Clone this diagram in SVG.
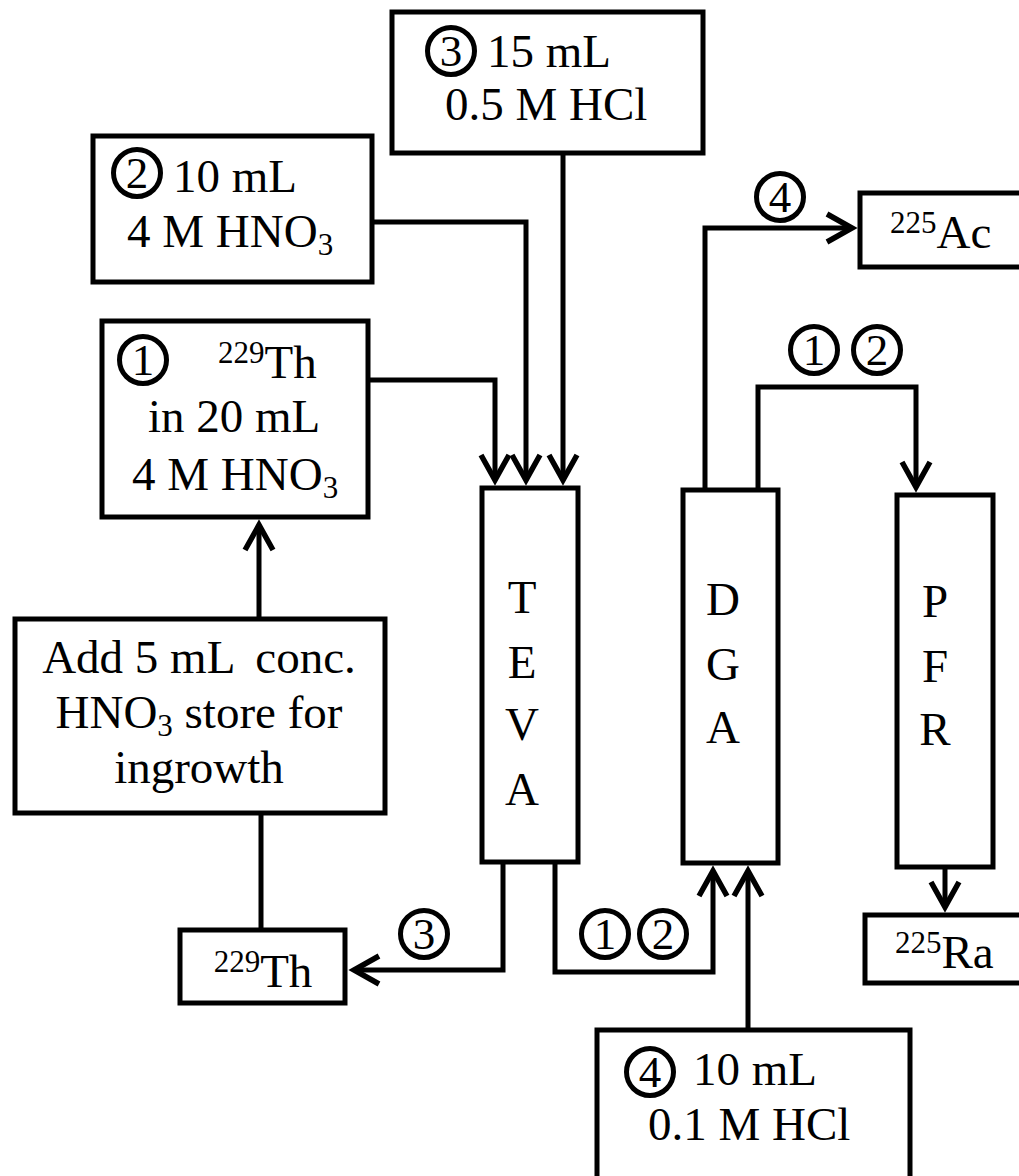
<svg xmlns="http://www.w3.org/2000/svg" width="1019" height="1176" viewBox="0 0 1019 1176">
<defs>
<style>
.b{fill:#fff;stroke:#000;stroke-width:5;stroke-linejoin:miter}
.l{fill:none;stroke:#000;stroke-width:5;stroke-linejoin:miter}
.c{fill:none;stroke:#000;stroke-width:5}
text{font-family:"Liberation Serif","Times New Roman",serif;font-size:47px;fill:#000}
.n{font-size:45px;text-anchor:middle}
.m{text-anchor:middle}
.s{font-size:31px}
</style>
<marker id="arr" viewBox="-32 -20 40 40" refX="0" refY="0" markerWidth="40" markerHeight="40" markerUnits="userSpaceOnUse" orient="auto" overflow="visible">
<path d="M-25,-14 L0,0 L-25,14" fill="none" stroke="#000" stroke-width="5.5" stroke-linejoin="miter"/>
</marker>
</defs>
<rect width="1019" height="1176" fill="#fff"/>

<g id="connectors">
<polyline class="l" points="372,222 526,222 526,480" marker-end="url(#arr)"/>
<polyline class="l" points="368,380 495,380 495,480" marker-end="url(#arr)"/>
<polyline class="l" points="563,153 563,480" marker-end="url(#arr)"/>
<polyline class="l" points="259,619 259,525" marker-end="url(#arr)"/>
<polyline class="l" points="261,813 261,930"/>
<polyline class="l" points="503,862 503,970 354,970" marker-end="url(#arr)"/>
<polyline class="l" points="555,862 555,972 713,972 713,871" marker-end="url(#arr)"/>
<polyline class="l" points="748,1030 748,871" marker-end="url(#arr)"/>
<polyline class="l" points="705,490 705,228 852,228" marker-end="url(#arr)"/>
<polyline class="l" points="758,490 758,387 916,387 916,487" marker-end="url(#arr)"/>
<polyline class="l" points="945,867 945,907" marker-end="url(#arr)"/>
<circle class="c" cx="424" cy="934" r="23.5"/><text class="n" x="424" y="949">3</text>
<circle class="c" cx="605" cy="934" r="23.5"/><text class="n" x="605" y="949">1</text>
<circle class="c" cx="663" cy="934" r="23.5"/><text class="n" x="663" y="949">2</text>
<circle class="c" cx="780" cy="197" r="23.5"/><text class="n" x="780" y="212">4</text>
<circle class="c" cx="814" cy="350" r="23.5"/><text class="n" x="814" y="365">1</text>
<circle class="c" cx="877" cy="350" r="23.5"/><text class="n" x="877" y="365">2</text>
</g>

<g id="box3">
<rect class="b" x="392" y="12" width="311" height="141"/>
<circle class="c" cx="451" cy="51" r="23.5"/><text class="n" x="451" y="66">3</text>
<text x="487" y="67">15 mL</text>
<text x="445" y="120">0.5 M HCl</text>
</g>

<g id="box2">
<rect class="b" x="93" y="136" width="279" height="146"/>
<circle class="c" cx="137" cy="173" r="23.5"/><text class="n" x="137" y="188">2</text>
<text x="173" y="192">10 mL</text>
<text x="127" y="247">4 M HNO<tspan class="s" dy="8">3</tspan></text>
</g>

<g id="box1">
<rect class="b" x="102" y="321" width="266" height="196"/>
<circle class="c" cx="143" cy="360" r="23.5"/><text class="n" x="143" y="375">1</text>
<text x="218" y="378"><tspan class="s" dy="-15">229</tspan><tspan dy="15">Th</tspan></text>
<text x="148" y="432">in 20 mL</text>
<text x="132" y="490">4 M HNO<tspan class="s" dy="8">3</tspan></text>
</g>

<g id="store">
<rect class="b" x="15" y="619" width="370" height="194"/>
<text class="m" x="199" y="673">Add 5 mL <tspan dx="10">conc.</tspan></text>
<text class="m" x="199" y="728">HNO<tspan class="s" dy="8">3</tspan><tspan dy="-8"> store for</tspan></text>
<text class="m" x="199" y="783">ingrowth</text>
</g>

<g id="th229">
<rect class="b" x="180" y="930" width="165" height="73"/>
<text class="m" x="263" y="987"><tspan class="s" dy="-15">229</tspan><tspan dy="15">Th</tspan></text>
</g>

<g id="teva">
<rect class="b" x="482" y="488" width="96" height="374"/>
<text class="m" x="522" y="613">T</text>
<text class="m" x="522" y="678">E</text>
<text class="m" x="522" y="740">V</text>
<text class="m" x="522" y="805">A</text>
</g>

<g id="dga">
<rect class="b" x="683" y="490" width="95" height="373"/>
<text class="m" x="723" y="615">D</text>
<text class="m" x="723" y="680">G</text>
<text class="m" x="723" y="743">A</text>
</g>

<g id="pfr">
<rect class="b" x="897" y="495" width="96" height="372"/>
<text class="m" x="935" y="617">P</text>
<text class="m" x="935" y="682">F</text>
<text class="m" x="935" y="745">R</text>
</g>

<g id="ac225">
<rect class="b" x="860" y="193" width="180" height="74"/>
<text x="890" y="248"><tspan class="s" dy="-15">225</tspan><tspan dy="15">Ac</tspan></text>
</g>

<g id="ra225">
<rect class="b" x="865" y="915" width="180" height="68"/>
<text x="895" y="968"><tspan class="s" dy="-15">225</tspan><tspan dy="15">Ra</tspan></text>
</g>

<g id="box4">
<rect class="b" x="597" y="1030" width="313" height="170"/>
<circle class="c" cx="650" cy="1072" r="23.5"/><text class="n" x="650" y="1087">4</text>
<text x="693" y="1085">10 mL</text>
<text x="648" y="1140">0.1 M HCl</text>
</g>
</svg>
